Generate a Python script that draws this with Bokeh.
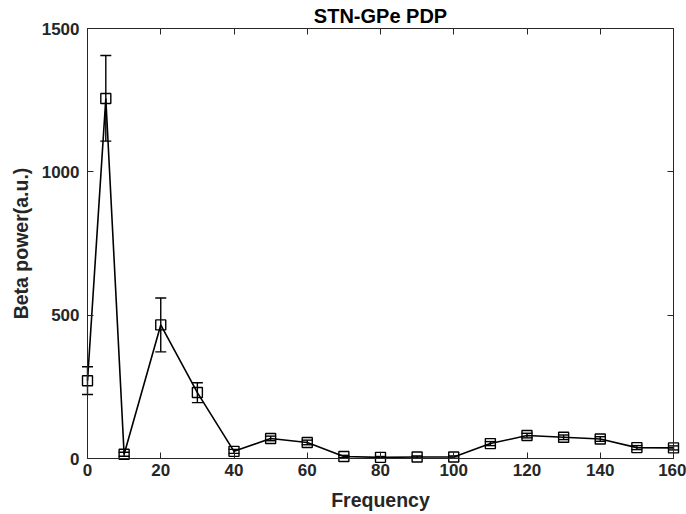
from bokeh.plotting import figure
from bokeh.models import (ColumnDataSource, Whisker, TeeHead, LinearAxis, FixedTicker,
                          Range1d, Label)
from bokeh.embed import file_html
from bokeh.resources import INLINE

freq = [0, 5, 10, 20, 30, 40, 50, 60, 70, 80, 90, 100, 110, 120, 130, 140, 150, 160]
power = [271, 1256, 15, 466, 230, 25, 70, 56, 7, 4, 5, 5, 52, 80, 74, 68, 38, 37]
err_lo = [223, 1107, 8, 372, 195, 18, 62, 48, 3, 1, 1, 1, 45, 72, 66, 60, 31, 30]
err_hi = [320, 1406, 22, 560, 264, 32, 78, 64, 11, 7, 9, 9, 59, 88, 82, 76, 45, 44]

x_ticks = [0, 20, 40, 60, 80, 100, 120, 140, 160]
y_ticks = [0, 500, 1000, 1500]

title_text = "STN-GPe PDP"
x_label = "Frequency"
y_label = "Beta power(a.u.)"

FONT = "Liberation Sans"
GREY = "#262626"

W, H = 686, 514
# pixel box of the axes (left, right, top, bottom)
BL, BR, BT, BB = 87, 673, 28, 458

x0, x1 = x_ticks[0], x_ticks[-1]
y0, y1 = y_ticks[0], y_ticks[-1]
sx = (BR - BL) / (x1 - x0)
sy = (BB - BT) / (y1 - y0)
xr = Range1d(x0 - BL / sx, x1 + (W - BR) / sx)
yr = Range1d(y0 - (H - BB) / sy, y1 + BT / sy)

src = ColumnDataSource(dict(x=freq, y=power, lo=err_lo, hi=err_hi))

p = figure(width=W, height=H, output_backend="svg", toolbar_location=None,
           x_range=xr, y_range=yr, min_border=0)
p.grid.visible = False
p.outline_line_color = None
p.background_fill_color = "white"
p.border_fill_color = "white"


def style_axis(ax):
    ax.major_tick_in = 6
    ax.major_tick_out = 0
    ax.minor_tick_line_color = None
    ax.axis_line_color = GREY
    ax.major_tick_line_color = GREY
    ax.major_label_text_font = FONT
    ax.major_label_text_font_size = "17px"
    ax.major_label_text_font_style = "bold"
    ax.major_label_text_color = GREY
    ax.axis_label_text_font = FONT
    ax.axis_label_text_font_size = "19.5px"
    ax.axis_label_text_font_style = "bold"
    ax.axis_label_text_color = GREY


xa = p.xaxis[0]
ya = p.yaxis[0]
style_axis(xa)
style_axis(ya)
xa.ticker = FixedTicker(ticks=x_ticks)
ya.ticker = FixedTicker(ticks=y_ticks)
xa.fixed_location = y0
ya.fixed_location = x0
xa.bounds = (x0, x1)
ya.bounds = (y0, y1)
xa.axis_label = x_label
ya.axis_label = y_label
xa.major_label_standoff = 5
ya.major_label_standoff = 8
xa.axis_label_standoff = 10
ya.axis_label_standoff = 7

top_ax = LinearAxis(ticker=FixedTicker(ticks=x_ticks), fixed_location=y1, bounds=(x0, x1))
right_ax = LinearAxis(ticker=FixedTicker(ticks=y_ticks), fixed_location=x1, bounds=(y0, y1))
for ax in (top_ax, right_ax):
    style_axis(ax)
    ax.major_label_text_color = None
p.add_layout(top_ax, "above")
p.add_layout(right_ax, "right")

p.line("x", "y", source=src, line_color="black", line_width=1.6)
p.add_layout(Whisker(base="x", lower="lo", upper="hi", source=src,
                     line_color="black", line_width=1.4,
                     upper_head=TeeHead(size=11, line_color="black", line_width=1.4),
                     lower_head=TeeHead(size=11, line_color="black", line_width=1.4)))
p.scatter("x", "y", source=src, marker="square", size=10, fill_color=None,
          line_color="black", line_width=1.4)

p.add_layout(Label(x=(x0 + x1) / 2, y=y1 + (BT - 15) / sy, text=title_text,
                   text_align="center", text_baseline="middle",
                   text_font=FONT, text_font_size="20px", text_font_style="bold",
                   text_color="black"))

open("out.html", "w").write(file_html(p, INLINE))
